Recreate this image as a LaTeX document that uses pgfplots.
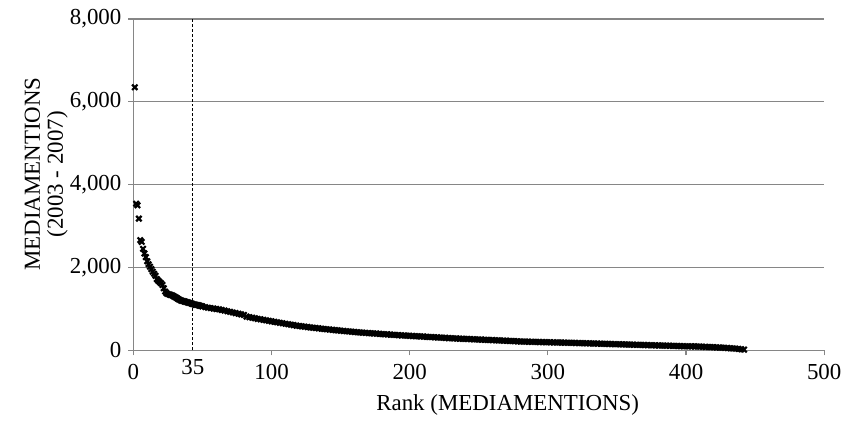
\documentclass[border=0pt]{standalone}
\usepackage{fontspec}
\setmainfont{Liberation Serif}
\usepackage{pgfplots}
\pgfplotsset{compat=1.18}
\definecolor{axgray}{RGB}{134,134,134}
\begin{document}
\begin{tikzpicture}
\begin{axis}[
  name=ax,
  scale only axis, width=347pt, height=166.5pt,
  xmin=0, xmax=500, ymin=0, ymax=8000,
  xtick={0,100,200,300,400,500}, ytick={0,2000,4000,6000,8000},
  extra x ticks={43}, extra x tick labels={35},
  extra x tick style={major tick length=0pt, grid=none},
  axis x line=bottom, axis y line=left,
  axis line style={draw=axgray, line width=0.7pt, -},
  tick style={draw=axgray, line width=0.6pt},
  tick align=outside, major tick length=2.5pt,
  ymajorgrids, grid style={draw=axgray, line width=0.7pt},
  clip=false,
  scaled ticks=false,
  /pgf/number format/assume math mode=true,
  /pgf/number format/1000 sep={,},
  ticklabel style={font=\fontsize{11.5}{13}\selectfont, text=black},
  xticklabel style={yshift=-1pt},
  xlabel={Rank (MEDIAMENTIONS)},
  xlabel style={font=\fontsize{11.5}{13}\selectfont, at={(axis description cs:0.5418,-0.165)}, anchor=center},
  ylabel={MEDIAMENTIONS\\(2003 - 2007)},
  ylabel style={font=\fontsize{11.5}{11.5}\selectfont, align=center, at={(axis description cs:-0.1261,0.5315)}, anchor=center},
]
\addplot[black, line width=0.5pt, dash pattern=on 1.5pt off 1pt, forget plot] coordinates {(43,0) (43,8000)};
\addplot[only marks, mark=x, mark size=1.9pt, black, mark options={line width=1.1pt}] coordinates {
(1,6350)(2,3540)(3,3500)(4,3180)(5,2660)(6,2620)(7,2450)(8,2340)(9,2250)(10,2150)
(11,2080)(12,2020)(13,1960)(14,1900)(15,1850)(16,1800)(17,1720)(18,1680)(19,1650)(20,1620)
(21,1580)(22,1500)(23,1420)(24,1380)(25,1360)(26,1350)(27,1340)(28,1330)(29,1310)(30,1290)
(31,1270)(32,1250)(33,1230)(34,1210)(35,1200)(36,1190)(37,1180)(38,1170)(39,1160)(40,1150)
(41,1140)(42,1130)(43,1120)(44,1110)(45,1100)(46,1095)(47,1090)(48,1080)(49,1070)
(50,1060)(52,1045)(54,1030)(56,1020)(58,1010)(60,1000)(62,990)(64,975)(66,960)(68,945)
(70,930)(72,915)(74,900)(76,885)(78,870)(80,855)(82,815)(84,800)(86,790)(88,775)
(90,760)(92,750)(94,738)(96,725)(98,712)(100,700)(102,690)(104,678)(106,665)(108,655)
(110,643)(112,632)(114,620)(116,610)(118,598)(120,588)(122,580)(124,572)(126,563)(128,555)
(130,547)(132,540)(134,532)(136,524)(138,517)(140,510)(142,503)(144,496)(146,489)(148,482)
(150,475)(152,469)(154,462)(156,456)(158,450)(160,444)(162,438)(164,433)(166,428)(168,423)
(170,418)(172,413)(174,408)(176,404)(178,399)(180,394)(182,389)(184,385)(186,380)(188,376)
(190,371)(192,367)(194,363)(196,359)(198,355)(200,351)(202,347)(204,343)(206,340)(208,336)
(210,332)(212,328)(214,324)(216,320)(218,316)(220,313)(222,309)(224,305)(226,301)(228,297)
(230,293)(232,289)(234,286)(236,283)(238,280)(240,277)(242,274)(244,271)(246,268)(248,265)
(250,262)(252,259)(254,256)(256,253)(258,250)(260,247)(262,244)(264,241)(266,238)(268,235)
(270,232)(272,229)(274,226)(276,222)(278,218)(280,215)(282,213)(284,211)(286,209)(288,207)
(290,205)(292,203)(294,201)(296,200)(298,198)(300,196)(302,195)(304,193)(306,191)(308,190)
(310,188)(312,186)(314,185)(316,183)(318,181)(320,179)(322,177)(324,175)(326,173)(328,171)
(330,169)(332,167)(334,165)(336,163)(338,161)(340,159)(342,157)(344,155)(346,153)(348,151)
(350,149)(352,147)(354,145)(356,143)(358,141)(360,139)(362,137)(364,135)(366,133)(368,131)
(370,129)(372,127)(374,125)(376,123)(378,121)(380,119)(382,117)(384,115)(386,113)(388,111)
(390,109)(392,107)(394,105)(396,103)(398,101)(400,99)(402,98)(404,97)(406,96)(408,94)
(410,91)(412,88)(414,85)(416,82)(418,79)(420,76)(422,72)(424,69)(426,65)(428,61)
(430,57)(432,52)(434,47)(436,42)(438,36)(440,28)(442,18)
};
\end{axis}
\path ([shift={(-67pt,-34.5pt)}]ax.south west) rectangle ([shift={(10pt,9.5pt)}]ax.north east);
\end{tikzpicture}
\end{document}
